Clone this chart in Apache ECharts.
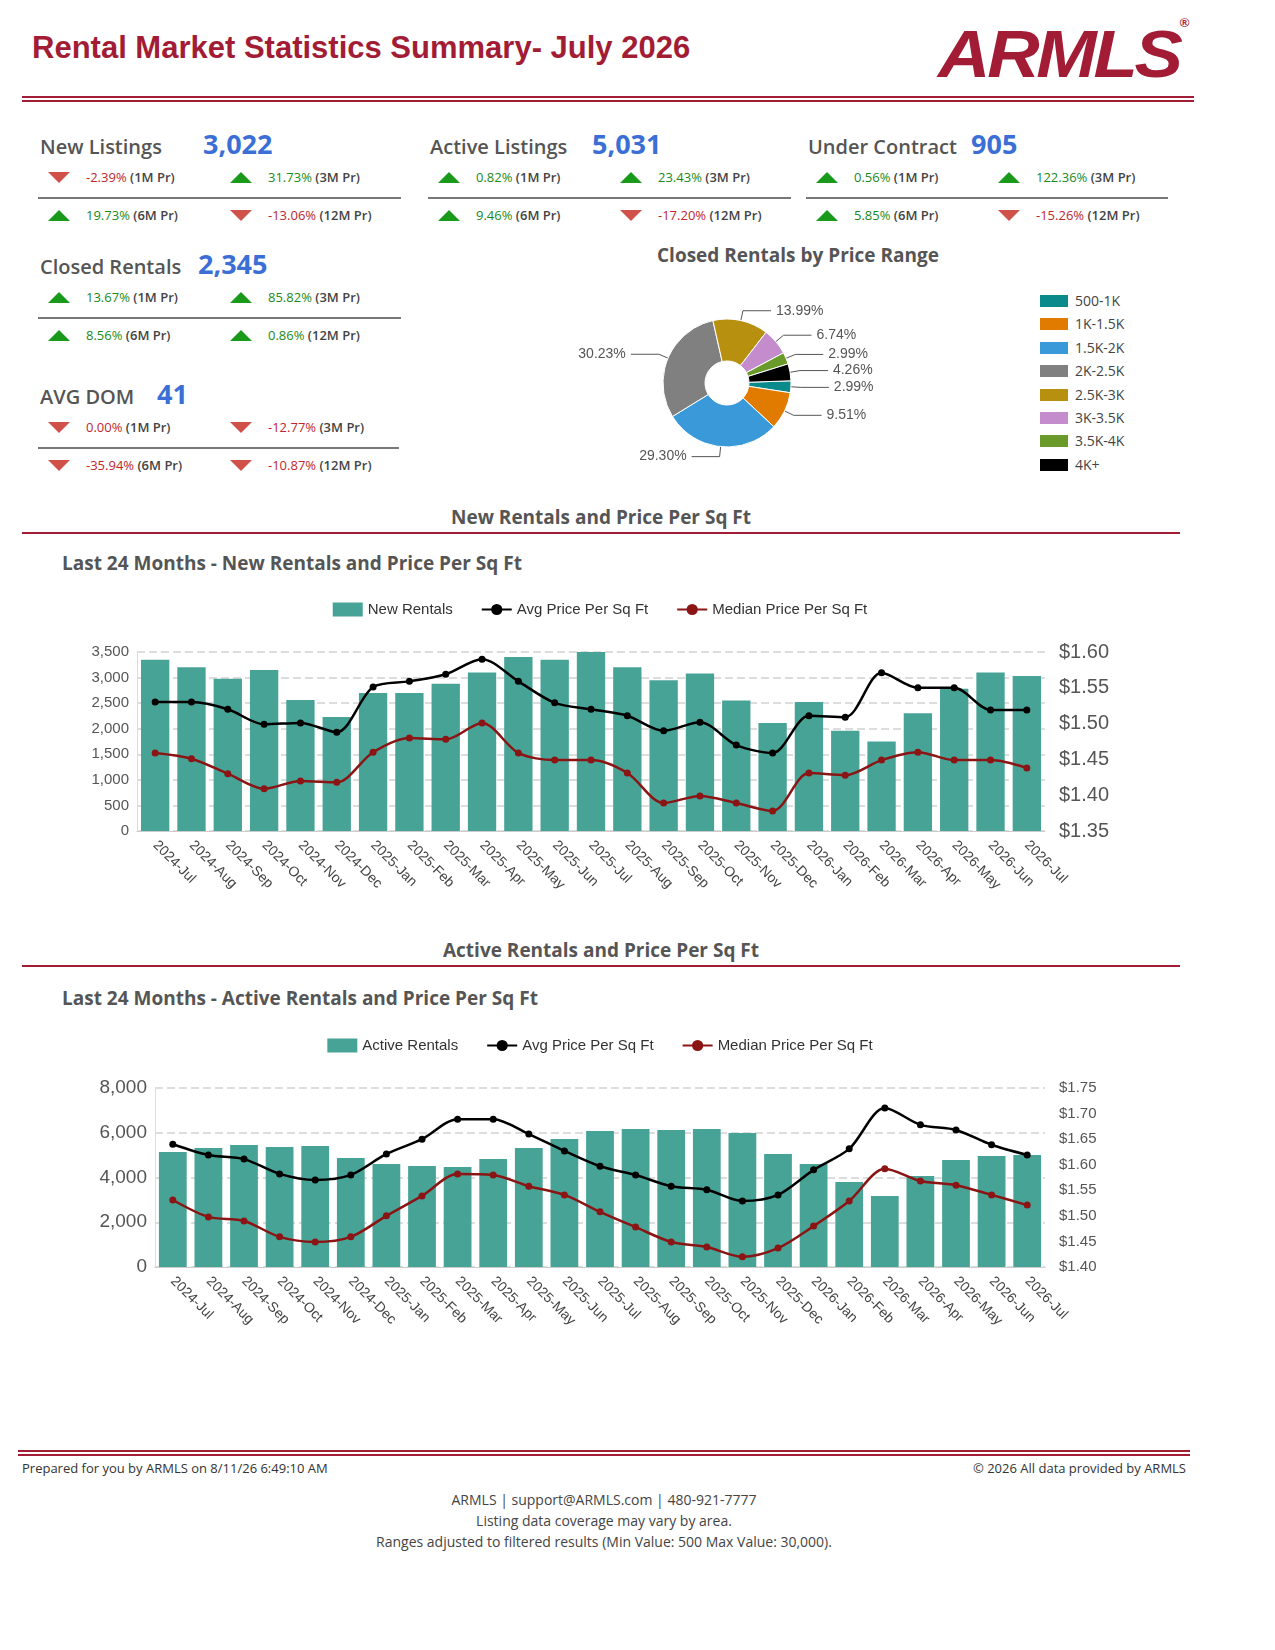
<!DOCTYPE html>
<html><head><meta charset="utf-8">
<script src="https://cdn.jsdelivr.net/npm/echarts@6/dist/echarts.min.js"></script>
<style>
body{margin:0;width:1275px;height:1650px;background:#fff;font-family:"Open Sans","Noto Sans",sans-serif;position:relative;overflow:hidden}
.a{position:absolute;white-space:nowrap}
.k{font-size:20px;color:#555;font-weight:600}
.v{font-size:27px;color:#3b6fd6;font-weight:700}
.r{font-size:13px}
.up{color:#1a8a1a}.dn{color:#c0262c}
.r b{color:#444;font-weight:600}
.tu{width:0;height:0;border-left:11px solid transparent;border-right:11px solid transparent;border-bottom:11px solid #1a9a1a;position:absolute}
.td{width:0;height:0;border-left:11px solid transparent;border-right:11px solid transparent;border-top:11px solid #d0504a;position:absolute}
.hl{position:absolute;height:2px;background:#777}
.sec{font-size:19px;font-weight:700;color:#555}
</style></head><body>
<div class="a" style="left:32px;top:30px;font:bold 31px 'Liberation Sans',Arial;color:#a31c35">Rental Market Statistics Summary- July 2026</div>
<div class="a" style="left:938px;top:16px;font:italic 900 66px 'Liberation Sans',Arial;color:#a31c35;letter-spacing:-3px;transform:scaleX(1.1);transform-origin:left">ARMLS<span style="font-size:12px;vertical-align:top;letter-spacing:0">®</span></div>
<div class="a" style="left:22px;top:96px;width:1172px;height:2px;background:#a31c35"></div>
<div class="a" style="left:22px;top:100px;width:1172px;height:2px;background:#a31c35"></div>
<div id="kpi"></div>
<div class="a" style="left:568px;top:242px;width:460px;text-align:center;font-size:19px;font-weight:700;color:#555">Closed Rentals by Price Range</div>
<div id="pie" class="a" style="left:560px;top:280px;width:360px;height:200px"></div>
<div id="leg"></div>
<div class="a sec" style="left:22px;top:504px;width:1158px;text-align:center">New Rentals and Price Per Sq Ft</div>
<div class="a" style="left:22px;top:532px;width:1158px;height:2px;background:#a31c35"></div>
<div class="a sec" style="left:62px;top:550px">Last 24 Months - New Rentals and Price Per Sq Ft</div>
<div id="c1" class="a" style="left:40px;top:585px;width:1120px;height:330px"></div>
<div class="a sec" style="left:22px;top:937px;width:1158px;text-align:center">Active Rentals and Price Per Sq Ft</div>
<div class="a" style="left:22px;top:965px;width:1158px;height:2px;background:#a31c35"></div>
<div class="a sec" style="left:62px;top:985px">Last 24 Months - Active Rentals and Price Per Sq Ft</div>
<div id="c2" class="a" style="left:40px;top:1021px;width:1120px;height:330px"></div>
<div class="a" style="left:18px;top:1450px;width:1172px;height:2px;background:#a31c35"></div>
<div class="a" style="left:18px;top:1454px;width:1172px;height:2px;background:#a31c35"></div>
<div class="a" style="left:22px;top:1459px;font-size:13px;color:#333">Prepared for you by ARMLS on 8/11/26 6:49:10 AM</div>
<div class="a" style="right:89px;top:1459px;font-size:13px;color:#333">© 2026 All data provided by ARMLS</div>
<div class="a" style="left:0;top:1489px;width:1208px;text-align:center;font-size:14px;color:#444;line-height:21px">ARMLS | support@ARMLS.com | 480-921-7777<br>Listing data coverage may vary by area.<br>Ranges adjusted to filtered results (Min Value: 500 Max Value: 30,000).</div>
<script>
const months=["2024-Jul","2024-Aug","2024-Sep","2024-Oct","2024-Nov","2024-Dec","2025-Jan","2025-Feb","2025-Mar","2025-Apr","2025-May","2025-Jun","2025-Jul","2025-Aug","2025-Sep","2025-Oct","2025-Nov","2025-Dec","2026-Jan","2026-Feb","2026-Mar","2026-Apr","2026-May","2026-Jun","2026-Jul"];
const newRentals=[3350,3200,2975,3150,2560,2230,2700,2700,2880,3100,3400,3350,3500,3200,2950,3080,2550,2110,2520,1960,1750,2300,2780,3100,3030];
const newAvg=[1.530,1.530,1.520,1.499,1.501,1.488,1.551,1.559,1.569,1.590,1.559,1.529,1.520,1.511,1.490,1.502,1.470,1.459,1.511,1.509,1.571,1.550,1.550,1.519,1.519];
const newMed=[1.459,1.451,1.430,1.409,1.420,1.418,1.460,1.480,1.478,1.501,1.459,1.449,1.449,1.431,1.389,1.399,1.389,1.378,1.431,1.428,1.449,1.460,1.449,1.449,1.438];
const activeRentals=[5140,5320,5450,5360,5410,4870,4600,4510,4470,4830,5320,5720,6080,6170,6120,6170,5990,5050,4600,3800,3170,4070,4780,4960,5010];
const actAvg=[1.640,1.619,1.611,1.582,1.570,1.580,1.621,1.650,1.689,1.689,1.660,1.627,1.597,1.580,1.558,1.551,1.529,1.541,1.590,1.631,1.711,1.678,1.668,1.639,1.619];
const actMed=[1.531,1.498,1.490,1.459,1.449,1.459,1.500,1.539,1.582,1.580,1.558,1.541,1.508,1.478,1.449,1.439,1.420,1.437,1.480,1.529,1.592,1.568,1.560,1.541,1.521];
const pieCats=["500-1K","1K-1.5K","1.5K-2K","2K-2.5K","2.5K-3K","3K-3.5K","3.5K-4K","4K+"];
const pieVals=[2.99,9.51,29.30,30.23,13.99,6.74,2.99,4.26];
const pieColors=["#0a8a8a","#e07b00","#3a9ad9","#808080","#b8900f","#c48ccc","#6a9a2a","#000000"];
const kpis=[
 {n:"New Listings",v:"3,022",x:40,vx:203,y:133,w:363,r:[["-2.39%","1M Pr"],["31.73%","3M Pr"],["19.73%","6M Pr"],["-13.06%","12M Pr"]]},
 {n:"Active Listings",v:"5,031",x:430,vx:592,y:133,w:363,r:[["0.82%","1M Pr"],["23.43%","3M Pr"],["9.46%","6M Pr"],["-17.20%","12M Pr"]]},
 {n:"Under Contract",v:"905",x:808,vx:971,y:133,w:362,r:[["0.56%","1M Pr"],["122.36%","3M Pr"],["5.85%","6M Pr"],["-15.26%","12M Pr"]]},
 {n:"Closed Rentals",v:"2,345",x:40,vx:198,y:253,w:363,r:[["13.67%","1M Pr"],["85.82%","3M Pr"],["8.56%","6M Pr"],["0.86%","12M Pr"]]},
 {n:"AVG DOM",v:"41",x:40,vx:157,y:383,w:361,r:[["0.00%","1M Pr",true],["-12.77%","3M Pr"],["-35.94%","6M Pr"],["-10.87%","12M Pr"]]}
];
let h="";
kpis.forEach(k=>{
 h+=`<div class="a k" style="left:${k.x}px;top:${k.y}px">${k.n}</div><div class="a v" style="left:${k.vx}px;top:${k.y-8}px">${k.v}</div>`;
 const rowsY=[k.y+40,k.y+78];
 k.r.forEach((r,i)=>{
  const down=r[0].startsWith("-")||r[2];
  const cx=k.x+(i%2?190:8), y=rowsY[Math.floor(i/2)];
  h+=`<div class="${down?'td':'tu'}" style="left:${cx}px;top:${y-1}px"></div>`;
  h+=`<div class="a r ${down?'dn':'up'}" style="left:${cx+38}px;top:${y-5}px">${r[0]} <b>(${r[1]})</b></div>`;
 });
 h+=`<div class="hl" style="left:${k.x-2}px;top:${k.y+64}px;width:${k.w}px"></div>`;
});
let lg="";
pieCats.forEach((c,i)=>{lg+=`<div class="a" style="left:1040px;top:${295+i*23.4}px;width:28px;height:12px;background:${pieColors[i]}"></div><div class="a" style="left:1075px;top:${291+i*23.4}px;font-size:14px;color:#444">${c}</div>`});
document.getElementById("kpi").innerHTML=h;
document.getElementById("leg").innerHTML=lg;

const pie=echarts.init(document.getElementById("pie"));
pie.setOption({animation:false,series:[{type:"pie",center:[167,103],radius:[22,64],startAngle:2,clockwise:true,
 data:pieCats.map((c,i)=>({name:c,value:pieVals[i],itemStyle:{color:pieColors[i]}})),
 itemStyle:{borderColor:"#fff",borderWidth:1},
 label:{formatter:p=>p.value.toFixed(2)+"%",fontSize:14,color:"#555"},
 labelLine:{length:10,length2:28,lineStyle:{color:"#555"}}}]});

function combo(id,barName,bars,avg,med,lmax,lint,rmin,rmax,rint,lfs,rfs,left){
 const c=echarts.init(document.getElementById(id));
 c.setOption({animation:false,
  legend:{top:12,left:"center",itemGap:28,textStyle:{fontSize:15,color:"#333"},data:[{name:barName,icon:"rect"},{name:"Avg Price Per Sq Ft"},{name:"Median Price Per Sq Ft"}],itemWidth:30,itemHeight:14},
  grid:{left:left,right:115,top:67,bottom:84},
  xAxis:{type:"category",data:months,axisLine:{lineStyle:{color:"#ccc"}},axisTick:{show:false},axisLabel:{rotate:-45,fontSize:14,color:"#444",interval:0,margin:12}},
  yAxis:[{type:"value",min:0,max:lmax,interval:lint,axisLine:{show:true,lineStyle:{color:"#ddd"}},axisLabel:{fontSize:lfs,color:"#555",formatter:v=>v.toLocaleString("en-US")},splitLine:{lineStyle:{type:"dashed",color:"#ddd",width:2}}},
   {type:"value",min:rmin,max:rmax,interval:rint,splitLine:{show:false},axisLabel:{fontSize:rfs,color:"#555",margin:14,formatter:v=>"$"+v.toFixed(2)}}],
  series:[{name:barName,type:"bar",data:bars,barWidth:"78%",itemStyle:{color:"#48a397"}},
   {name:"Avg Price Per Sq Ft",type:"line",yAxisIndex:1,data:avg,smooth:0.3,symbol:"circle",symbolSize:7,lineStyle:{color:"#000",width:2.5},itemStyle:{color:"#000"}},
   {name:"Median Price Per Sq Ft",type:"line",yAxisIndex:1,data:med,smooth:0.3,symbol:"circle",symbolSize:7,lineStyle:{color:"#8b1414",width:2.5},itemStyle:{color:"#8b1414"}}]});
}
combo("c1","New Rentals",newRentals,newAvg,newMed,3500,500,1.35,1.60,0.05,15,20,97);
combo("c2","Active Rentals",activeRentals,actAvg,actMed,8000,2000,1.40,1.75,0.05,19,15,115);
</script></body></html>
